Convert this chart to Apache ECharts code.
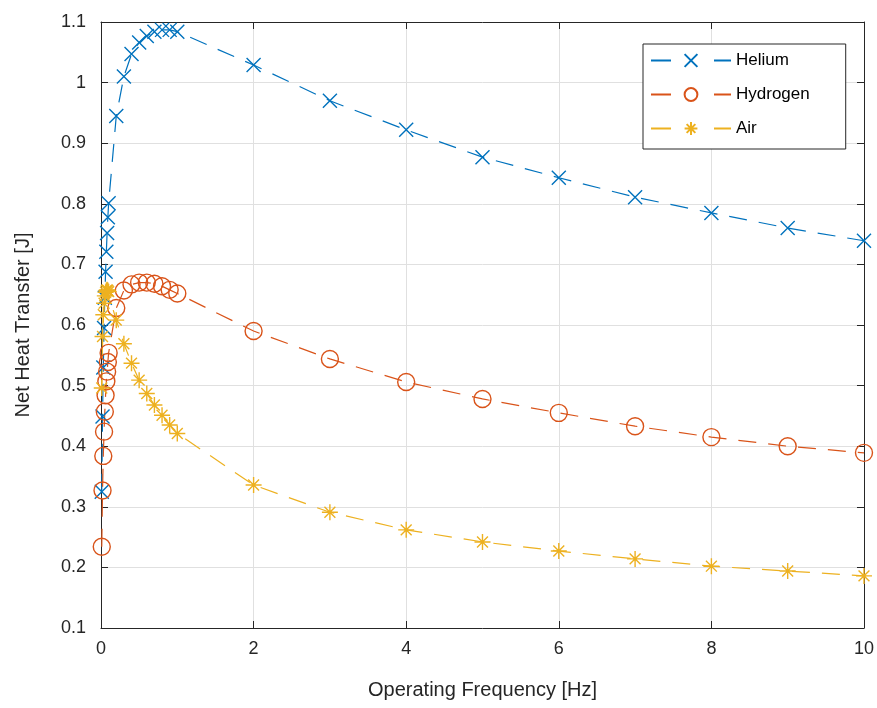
<!DOCTYPE html>
<html>
<head>
<meta charset="utf-8">
<script src="https://cdn.jsdelivr.net/npm/echarts@6/dist/echarts.min.js"></script>
<style>
  html, body { margin: 0; padding: 0; background: #fff; }
  #chart { width: 877px; height: 708px; }
</style>
</head>
<body>
<div id="chart"></div>
<script>
// Operating frequencies [Hz]
const frequency = [0.01, 0.02, 0.03, 0.04, 0.05, 0.06, 0.07, 0.08, 0.09, 0.1,
                   0.2, 0.3, 0.4, 0.5, 0.6, 0.7, 0.8, 0.9, 1.0,
                   2, 3, 4, 5, 6, 7, 8, 9, 10];

// Net heat transfer [J] for each working gas
const helium = [0.325, 0.449, 0.530, 0.595, 0.645, 0.688, 0.721, 0.752, 0.778, 0.801,
                0.945, 1.010, 1.047, 1.066, 1.077, 1.084, 1.087, 1.087, 1.084,
                1.029, 0.970, 0.922, 0.877, 0.843, 0.811, 0.785, 0.760, 0.739];
const hydrogen = [0.234, 0.327, 0.384, 0.424, 0.457, 0.484, 0.507, 0.523, 0.539, 0.554,
                  0.628, 0.657, 0.667, 0.670, 0.670, 0.668, 0.664, 0.658, 0.652,
                  0.590, 0.544, 0.506, 0.478, 0.455, 0.433, 0.415, 0.400, 0.389];
const air = [0.496, 0.581, 0.617, 0.636, 0.648, 0.654, 0.657, 0.658, 0.657, 0.655,
             0.608, 0.569, 0.537, 0.509, 0.487, 0.468, 0.451, 0.435, 0.421,
             0.336, 0.291, 0.262, 0.242, 0.227, 0.214, 0.202, 0.194, 0.186];

const seriesNames = ['Helium', 'Hydrogen', 'Air'];
const xTitle = 'Operating Frequency [Hz]';
const yTitle = 'Net Heat Transfer [J]';

const colors = ['#0072BD', '#D95319', '#EDB120'];
const FONT = '"Liberation Sans", Arial, Helvetica, sans-serif';
const AXIS_COLOR = '#262626';

const crossPath = 'path://M0,0L10,10M10,0L0,10';
const starPath = 'path://M5,0L5,10M0,5L10,5M1.6,1.6L8.4,8.4M8.4,1.6L1.6,8.4';

function pairs(ys) {
  return frequency.map((f, i) => [f, ys[i]]);
}

function makeSeries(name, ys, color, symbol, size) {
  return {
    name: name,
    type: 'line',
    data: pairs(ys),
    xAxisIndex: 0,
    yAxisIndex: 0,
    symbol: symbol,
    symbolSize: size,
    showAllSymbol: true,
    clip: false,
    lineStyle: { color: color, width: 1.2, type: [18, 12] },
    itemStyle: { color: 'rgba(0,0,0,0)', borderColor: color, borderWidth: 1.4 },
    emphasis: { disabled: true },
    animation: false
  };
}

// Box-style frame: every side carries a line and inward-pointing ticks
function frameLine() {
  return { show: true, onZero: false, lineStyle: { color: AXIS_COLOR, width: 1 } };
}
function frameTicks() {
  return { show: true, inside: true, length: 7, lineStyle: { color: AXIS_COLOR, width: 1 } };
}

const option = {
  backgroundColor: '#ffffff',
  animation: false,
  grid: { left: 101, right: 11, top: 22, bottom: 80, containLabel: false },
  legend: {
    orient: 'vertical',
    left: 643,
    top: 44,
    padding: [8, 36, 12, 7],
    itemWidth: 80,
    itemHeight: 16,
    itemGap: 17,
    backgroundColor: '#ffffff',
    borderColor: AXIS_COLOR,
    borderWidth: 1,
    borderRadius: 0,
    lineStyle: { type: [20, 43] },
    textStyle: { fontFamily: FONT, fontSize: 17, color: '#000000' },
    data: seriesNames
  },
  xAxis: [
    {
      type: 'value', min: 0, max: 10, interval: 2, position: 'bottom',
      name: xTitle, nameLocation: 'middle', nameGap: 52,
      nameTextStyle: { fontFamily: FONT, fontSize: 20, color: AXIS_COLOR },
      axisLine: frameLine(), axisTick: frameTicks(),
      axisLabel: { fontFamily: FONT, fontSize: 18, color: AXIS_COLOR, margin: 12 },
      splitLine: { show: true, lineStyle: { color: '#e0e0e0', width: 1 } }
    },
    {
      type: 'value', min: 0, max: 10, interval: 2, position: 'top',
      axisLine: frameLine(), axisTick: frameTicks(),
      axisLabel: { show: false }, splitLine: { show: false }
    }
  ],
  yAxis: [
    {
      type: 'value', min: 0.1, max: 1.1, interval: 0.1, position: 'left',
      name: yTitle, nameLocation: 'middle', nameGap: 68, nameRotate: 90,
      nameTextStyle: { fontFamily: FONT, fontSize: 20, color: AXIS_COLOR },
      axisLine: frameLine(), axisTick: frameTicks(),
      axisLabel: { fontFamily: FONT, fontSize: 18, color: AXIS_COLOR, margin: 15 },
      splitLine: { show: true, lineStyle: { color: '#e0e0e0', width: 1 } }
    },
    {
      type: 'value', min: 0.1, max: 1.1, interval: 0.1, position: 'right',
      axisLine: frameLine(), axisTick: frameTicks(),
      axisLabel: { show: false }, splitLine: { show: false }
    }
  ],
  series: [
    makeSeries(seriesNames[0], helium, colors[0], crossPath, 14),
    makeSeries(seriesNames[1], hydrogen, colors[1], 'circle', 17),
    makeSeries(seriesNames[2], air, colors[2], starPath, 16)
  ]
};

const chart = echarts.init(document.getElementById('chart'), null, { renderer: 'canvas' });
chart.setOption(option);
</script>
</body>
</html>
